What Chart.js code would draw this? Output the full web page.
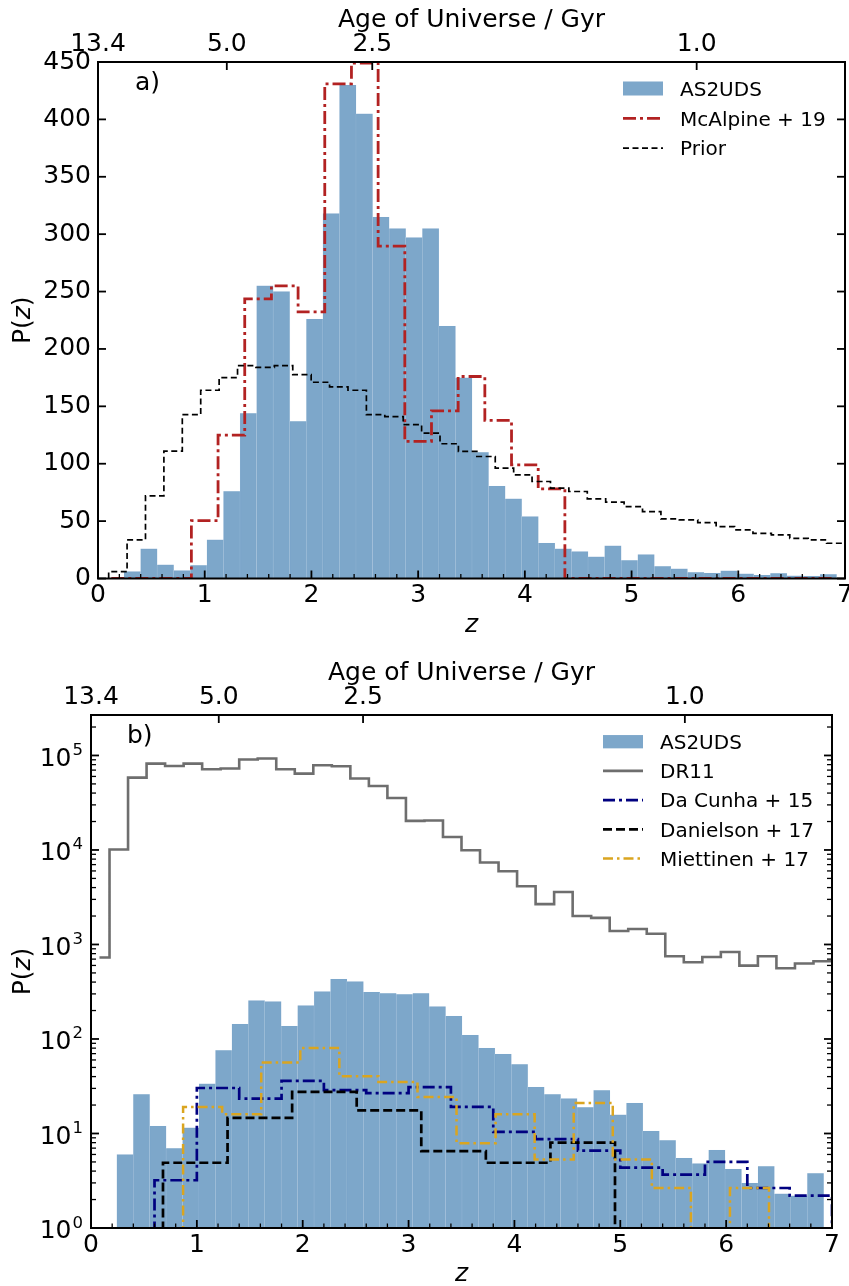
<!DOCTYPE html>
<html>
<head>
<meta charset="utf-8">
<title>AS2UDS redshift distribution</title>
<script src="https://cdn.jsdelivr.net/npm/chart.js@4.4.1/dist/chart.umd.min.js"></script>
<style>
  html, body { margin: 0; padding: 0; background: #fff; }
  #wrap { position: relative; width: 849px; height: 1286px; overflow: hidden; }
  #wrap canvas { position: absolute; left: 0; }
  #chartA { top: 0; }
  #chartB { top: 640px; }
</style>
</head>
<body>
<div id="wrap">
  <canvas id="chartA" width="849" height="640"></canvas>
  <canvas id="chartB" width="849" height="646"></canvas>
</div>
<script>
var FONT = "'DejaVu Sans', sans-serif";
Chart.defaults.font.family = FONT;
Chart.defaults.color = '#000';

// redshift range shared by both panels
var zMin = 0, zMax = 7;

// secondary axis: age of the universe at a few redshifts
var ageTickZ = [0, 1.207, 2.57, 5.61];
var ageTickLabels = ['13.4', '5.0', '2.5', '1.0'];

// AS2UDS stacked P(z), 43 bins
var as2udsStart = 0.244, as2udsWidth = 0.1553;
var as2udsCounts = [6, 26, 12, 7, 11.5, 33.7, 76, 144, 255, 250,
                    137, 226, 318, 430, 405, 315, 305, 297, 305, 220,
                    175, 110, 80.5, 69.5, 54, 31, 26, 23.5, 19, 28.6,
                    15.8, 21, 10.6, 8.5, 5.5, 4.8, 6.7, 4.2, 3.0, 4.5,
                    2.3, 2.2, 3.8];

// McAlpine+19 (panel a)
var mcalpineStart = 0.125, mcalpineWidth = 0.25;
var mcalpineCounts = [0, 0, 0, 50.4, 125, 243.6, 255, 232.3, 431, 449,
                      289.5, 119.4, 146, 176, 137.7, 99, 78, 0, 0, 0,
                      0, 0, 0, 0, 0, 0, 0];

// redshift prior (panel a)
var priorStart = 0.1, priorWidth = 0.1725;
var priorCounts = [6, 33.6, 72, 111, 142.7, 164, 175, 185.4, 184, 185.5,
                   177.6, 171, 167, 164, 142.7, 141, 134, 126.7, 117.4, 110.7,
                   106.3, 96.2, 90.3, 84.5, 78.7, 75.8, 69.4, 66.5, 62.7, 58.3,
                   51.9, 51, 48.7, 45.2, 42.3, 39.4, 38, 35, 33.6, 30.7];

// UDS DR11 field galaxies (panel b)
var dr11FirstEdge = 0.08, dr11Width = 0.175;
var dr11Counts = [727, 10100, 58300, 82000, 77400, 82000, 71400, 72700, 90500, 92700,
                  71400, 64300, 78700, 76900, 57000, 47600, 35500, 20300, 20500, 13700,
                  9930, 7360, 5950, 4130, 2670, 3590, 2005, 1910, 1390, 1460,
                  1300, 750, 648, 738, 833, 598, 750, 560, 628, 664];

// comparison samples (panel b)
var daCunhaStart = 0.6, daCunhaWidth = 0.4;
var daCunhaCounts = [3.2, 30.3, 23.4, 36, 28.7, 26.8, 31, 19.1, 10.4, 8.7,
                     6.6, 4.36, 3.67, 5.0, 2.65, 2.2];

var danielsonStart = 0.68, danielsonWidth = 0.61;
var danielsonCounts = [4.9, 14.6, 27.5, 17.6, 6.5, 4.9, 8.0];

var miettinenStart = 0.87, miettinenWidth = 0.369;
var miettinenCounts = [19.1, 16, 56.3, 80.3, 40.3, 35.1, 24.3, 7.9, 16, 5.3,
                       21, 5.3, 2.65, 0, 2.65];

var BLUE = 'rgba(70,130,180,0.7)';
var BLUE_EDGE = 'rgba(235,242,250,0.35)';

function binEdges(start, width, n) {
    var e = [];
    for (var i = 0; i <= n; i++) e.push(+(start + i * width).toFixed(4));
    return e;
}

// histogram outline in the matplotlib 'step' style
function stepPoints(edges, counts, floor, closeLeft, closeRight) {
    var pts = [];
    var n = counts.length;
    function lv(v) { return v > 0 ? v : floor; }
    if (closeLeft) pts.push({x: edges[0], y: floor});
    for (var i = 0; i < n; i++) pts.push({x: edges[i], y: lv(counts[i])});
    pts.push({x: edges[n], y: lv(counts[n - 1])});
    if (closeRight) pts.push({x: edges[n], y: floor});
    return pts;
}

function histBars() {
    return as2udsCounts.map(function (c, i) {
        return {x: as2udsStart + (i + 0.5) * as2udsWidth, y: c};
    });
}

function barSet() {
    return {
        type: 'bar', label: 'AS2UDS', data: histBars(),
        backgroundColor: BLUE, borderColor: BLUE_EDGE, borderWidth: 0.5,
        inflateAmount: 0.5,
        barPercentage: 1, categoryPercentage: 1, order: 10
    };
}

function stepSet(label, pts, color, width, dash, order) {
    return {
        type: 'line', label: label, data: pts, stepped: 'before',
        borderColor: color, borderWidth: width, borderDash: dash,
        borderCapStyle: 'butt', borderJoinStyle: 'miter',
        pointRadius: 0, fill: false, tension: 0, order: order
    };
}

function seg(ctx, x1, y1, x2, y2, w) {
    ctx.lineWidth = w;
    ctx.beginPath();
    ctx.moveTo(x1, y1);
    ctx.lineTo(x2, y2);
    ctx.stroke();
}

function drawPz(ctx, x, y) {
    var reg = '25px ' + FONT, it = 'italic 25px ' + FONT;
    ctx.save();
    ctx.translate(x, y);
    ctx.rotate(-Math.PI / 2);
    ctx.font = reg;
    var w1 = ctx.measureText('P(').width, w3 = ctx.measureText(')').width;
    ctx.font = it;
    var w2 = ctx.measureText('z').width;
    var x0 = -(w1 + w2 + w3) / 2;
    ctx.textAlign = 'left';
    ctx.textBaseline = 'alphabetic';
    ctx.font = reg; ctx.fillText('P(', x0, 0);
    ctx.font = it; ctx.fillText('z', x0 + w1, 0);
    ctx.font = reg; ctx.fillText(')', x0 + w1 + w2, 0);
    ctx.restore();
}

// ticks pointing inward, frame, labels, legend
var decorPlugin = {
    id: 'decor',
    afterDraw: function (chart, args, o) {
        var ctx = chart.ctx, a = chart.chartArea;
        var xs = chart.scales.x, ys = chart.scales.y;
        var i, px, py;
        ctx.save();
        ctx.strokeStyle = '#000';
        ctx.fillStyle = '#000';
        ctx.lineCap = 'butt';

        for (i = 0; i <= 35; i++) {
            px = xs.getPixelForValue(i * 0.2);
            var major = i % 5 === 0;
            seg(ctx, px, a.bottom, px, a.bottom - (major ? 8 : 4.5), major ? 1.8 : 1.3);
        }
        ageTickZ.forEach(function (z) {
            px = xs.getPixelForValue(z);
            seg(ctx, px, a.top, px, a.top + 8, 1.8);
        });
        o.yMajor.forEach(function (v) {
            py = ys.getPixelForValue(v);
            seg(ctx, a.left, py, a.left + 8, py, 1.8);
            seg(ctx, a.right, py, a.right - 8, py, 1.8);
        });
        (o.yMinor || []).forEach(function (v) {
            py = ys.getPixelForValue(v);
            seg(ctx, a.left, py, a.left + 5, py, 1.3);
            seg(ctx, a.right, py, a.right - 5, py, 1.3);
        });

        ctx.lineWidth = 2;
        ctx.strokeRect(a.left, a.top, a.right - a.left, a.bottom - a.top);

        // powers of ten on the log axis
        if (o.logLabels) {
            o.yMajor.forEach(function (v) {
                py = ys.getPixelForValue(v);
                var k = String(Math.round(Math.log10(v)));
                ctx.textAlign = 'right';
                ctx.textBaseline = 'alphabetic';
                ctx.font = '16.5px ' + FONT;
                var ew = ctx.measureText(k).width;
                ctx.fillText(k, a.left - 8, py - 0.5);
                ctx.font = '25px ' + FONT;
                ctx.fillText('10', a.left - 9 - ew, py + 10.4);
            });
        }

        // axis titles and panel tag
        var cx = (a.left + a.right) / 2;
        ctx.textAlign = 'center';
        ctx.textBaseline = 'alphabetic';
        ctx.font = '25px ' + FONT;
        ctx.fillText('Age of Universe / Gyr', cx, a.top - 35);
        ctx.font = 'italic 25px ' + FONT;
        ctx.fillText('z', cx, a.bottom + 53);
        drawPz(ctx, 30, (a.top + a.bottom) / 2);
        ctx.textAlign = 'left';
        ctx.font = '25px ' + FONT;
        ctx.fillText(o.tag, o.tagX, o.tagY);

        // legend
        chart.data.datasets.forEach(function (d, j) {
            var cy = o.legendY + j * o.legendDy;
            if (d.type === 'bar') {
                ctx.fillStyle = d.backgroundColor;
                ctx.fillRect(o.legendX, cy - o.boxH / 2, 40, o.boxH);
            } else {
                ctx.strokeStyle = d.borderColor;
                ctx.setLineDash(d.borderDash || []);
                seg(ctx, o.legendX, cy, o.legendX + 40, cy, d.borderWidth);
                ctx.setLineDash([]);
            }
            ctx.fillStyle = '#000';
            ctx.font = '20px ' + FONT;
            ctx.textAlign = 'left';
            ctx.fillText(d.label, o.legendX + 57, cy + 7.3);
        });
        ctx.restore();
    }
};

function xScales(bottomH, topH) {
    return {
        x: {
            type: 'linear', position: 'bottom', min: zMin, max: zMax, offset: false,
            grid: {display: false, drawTicks: false}, border: {display: false},
            ticks: {stepSize: 1, padding: 2, autoSkip: false, maxRotation: 0,
                    font: {size: 25}, color: '#000'},
            afterFit: function (s) { s.height = bottomH; s.paddingLeft = 0; s.paddingRight = 0; }
        },
        x2: {
            type: 'linear', position: 'top', min: zMin, max: zMax, offset: false,
            grid: {display: false, drawTicks: false}, border: {display: false},
            afterBuildTicks: function (s) {
                s.ticks = ageTickZ.map(function (z) { return {value: z}; });
            },
            ticks: {padding: 3, autoSkip: false, maxRotation: 0, font: {size: 25}, color: '#000',
                    callback: function (v, i) { return ageTickLabels[i]; }},
            afterFit: function (s) { s.height = topH; s.paddingLeft = 0; s.paddingRight = 0; }
        }
    };
}

// panel a: linear P(z)
var scalesA = xScales(61.5, 62);
scalesA.y = {
    type: 'linear', min: 0, max: 450,
    grid: {display: false, drawTicks: false}, border: {display: false},
    ticks: {stepSize: 50, padding: 7, font: {size: 25}, color: '#000'},
    afterFit: function (s) { s.width = 98; s.paddingTop = 0; s.paddingBottom = 0; }
};

var yMajorA = [];
for (var v = 0; v <= 450; v += 50) yMajorA.push(v);

new Chart(document.getElementById('chartA'), {
    type: 'bar',
    data: {
        datasets: [
            barSet(),
            stepSet('McAlpine + 19',
                    stepPoints(binEdges(mcalpineStart, mcalpineWidth, mcalpineCounts.length), mcalpineCounts, 0, true, true),
                    '#b22222', 2.8, [13, 4, 3, 4], 1),
            stepSet('Prior',
                    stepPoints(binEdges(priorStart, priorWidth, priorCounts.length), priorCounts, 0, true, true),
                    '#000000', 1.7, [6, 3.5], 0)
        ]
    },
    options: {
        responsive: false, animation: false, events: [],
        layout: {padding: {left: 0, right: 4, top: 0, bottom: 0}},
        scales: scalesA,
        plugins: {
            legend: {display: false}, tooltip: {enabled: false},
            decor: {yMajor: yMajorA, tag: 'a)', tagX: 135, tagY: 89.5,
                    legendX: 623, legendY: 88.5, legendDy: 29.8, boxH: 14}
        }
    },
    plugins: [decorPlugin]
});

// panel b: logarithmic P(z)
var yMaxB = 2.68e5;
var yMajorB = [1, 10, 100, 1000, 10000, 100000];
var yMinorB = [];
yMajorB.forEach(function (d) {
    for (var m = 2; m <= 9; m++) if (m * d <= yMaxB) yMinorB.push(m * d);
});

var scalesB = xScales(58, 75);
scalesB.y = {
    type: 'logarithmic', min: 1, max: yMaxB,
    grid: {display: false, drawTicks: false}, border: {display: false},
    ticks: {display: false},
    afterFit: function (s) { s.width = 91; s.paddingTop = 0; s.paddingBottom = 0; }
};

var dr11Edges = binEdges(0, dr11Width, dr11Counts.length);
dr11Edges[0] = dr11FirstEdge;

new Chart(document.getElementById('chartB'), {
    type: 'bar',
    data: {
        datasets: [
            barSet(),
            stepSet('DR11', stepPoints(dr11Edges, dr11Counts, 0.5, false, false),
                    '#6e6e6e', 2.6, [], 4),
            stepSet('Da Cunha + 15',
                    stepPoints(binEdges(daCunhaStart, daCunhaWidth, daCunhaCounts.length), daCunhaCounts, 0.5, true, true),
                    '#000080', 2.7, [12, 4, 3, 4], 3),
            stepSet('Danielson + 17',
                    stepPoints(binEdges(danielsonStart, danielsonWidth, danielsonCounts.length), danielsonCounts, 0.5, true, true),
                    '#000000', 2.7, [9, 4], 2),
            stepSet('Miettinen + 17',
                    stepPoints(binEdges(miettinenStart, miettinenWidth, miettinenCounts.length), miettinenCounts, 0.5, true, true),
                    '#daa520', 2.5, [10, 4, 2.5, 4], 1)
        ]
    },
    options: {
        responsive: false, animation: false, events: [],
        layout: {padding: {left: 0, right: 17, top: 0, bottom: 0}},
        scales: scalesB,
        plugins: {
            legend: {display: false}, tooltip: {enabled: false},
            decor: {yMajor: yMajorB, yMinor: yMinorB, logLabels: true, tag: 'b)', tagX: 127, tagY: 103.3,
                    legendX: 603, legendY: 101.7, legendDy: 29.2, boxH: 13.3}
        }
    },
    plugins: [decorPlugin]
});
</script>
</body>
</html>
